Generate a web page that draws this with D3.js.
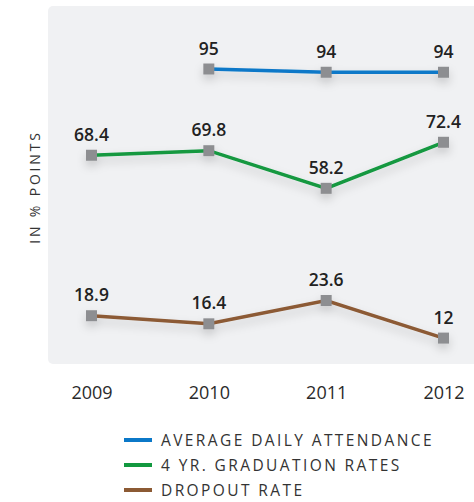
<!DOCTYPE html>
<html>
<head>
    <meta charset="UTF-8">
    <script src="https://cdn.jsdelivr.net/npm/d3@7"></script>
    <style>
        body { margin: 0; background: #fff; }
        svg { display: block; font-family: "Open Sans", sans-serif; }
    </style>
</head>
<body>
<script>
    // chart data
    var years = ["2009", "2010", "2011", "2012"];
    var attendance = [null, 95, 94, 94];
    var graduation = [68.4, 69.8, 58.2, 72.4];
    var dropout = [18.9, 16.4, 23.6, 12];
    var seriesNames = ["AVERAGE DAILY ATTENDANCE", "4 YR. GRADUATION RATES", "DROPOUT RATE"];
    var seriesColors = ["#0b78c8", "#12983f", "#8c5a34"];

    var width = 474, height = 502;

    var svg = d3.select("body").append("svg")
        .attr("width", width)
        .attr("height", height);

    var defs = svg.append("defs");
    var shadow = defs.append("filter")
        .attr("id", "shadow")
        .attr("x", "-50%").attr("y", "-100%")
        .attr("width", "200%").attr("height", "400%");
    shadow.append("feDropShadow")
        .attr("dx", 0).attr("dy", 5)
        .attr("stdDeviation", 5)
        .attr("flood-color", "#000")
        .attr("flood-opacity", 0.18);

    // plot background
    svg.append("rect")
        .attr("x", 48).attr("y", 6)
        .attr("width", 440).attr("height", 358)
        .attr("rx", 5)
        .attr("fill", "#f0f1f3");

    var x = d3.scalePoint().domain(years).range([91.5, 443.5]);
    var y = d3.scaleLinear().domain([0, 100]).range([377, 52.8]);

    // x axis labels
    var xAxis = d3.axisBottom(x).tickSize(0).tickPadding(0);
    var gx = svg.append("g")
        .attr("transform", "translate(0,385)")
        .call(xAxis);
    gx.select(".domain").remove();
    gx.selectAll("text")
        .attr("dy", "0.78em")
        .style("font-family", "'Open Sans', sans-serif")
        .style("font-size", "18px")
        .style("fill", "#2a2a2a");

    // y axis title
    svg.append("text")
        .attr("transform", "translate(40,187) rotate(-90)")
        .attr("text-anchor", "middle")
        .style("font-size", "14px")
        .style("letter-spacing", "2.8px")
        .style("fill", "#333")
        .text("IN % POINTS");

    var allSeries = [attendance, graduation, dropout];

    var line = d3.line()
        .defined(function (d) { return d.v !== null; })
        .x(function (d) { return x(d.year); })
        .y(function (d) { return y(d.v); });

    allSeries.forEach(function (values, i) {
        var pts = years.map(function (yr, j) { return { year: yr, v: values[j] }; });
        var g = svg.append("g").attr("filter", "url(#shadow)");
        g.append("path")
            .datum(pts)
            .attr("fill", "none")
            .attr("stroke", seriesColors[i])
            .attr("stroke-width", 3.5)
            .attr("d", line);
        var valid = pts.filter(function (d) { return d.v !== null; });
        g.selectAll("rect")
            .data(valid)
            .enter().append("rect")
            .attr("x", function (d) { return x(d.year) - 5.5; })
            .attr("y", function (d) { return y(d.v) - 5.5; })
            .attr("width", 11).attr("height", 11)
            .attr("fill", "#8d8e91");
        svg.selectAll(".lbl" + i)
            .data(valid)
            .enter().append("text")
            .attr("class", "lbl" + i)
            .attr("x", function (d) { return x(d.year); })
            .attr("y", function (d) { return y(d.v) - 14.5; })
            .attr("text-anchor", "middle")
            .style("font-size", "17.5px")
            .style("font-weight", 600)
            .style("fill", "#222")
            .text(function (d) { return d.v; });
    });

    // legend
    var legend = svg.append("g").attr("transform", "translate(124,440)");
    seriesNames.forEach(function (name, i) {
        var row = legend.append("g").attr("transform", "translate(0," + (i * 25) + ")");
        row.append("line")
            .attr("x1", 0).attr("x2", 28)
            .attr("stroke", seriesColors[i])
            .attr("stroke-width", 4);
        row.append("text")
            .attr("x", 37).attr("y", 0)
            .attr("dy", "0.36em")
            .style("font-size", "15.5px")
            .style("letter-spacing", "2.4px")
            .style("fill", "#333")
            .text(name);
    });
</script>
</body>
</html>
